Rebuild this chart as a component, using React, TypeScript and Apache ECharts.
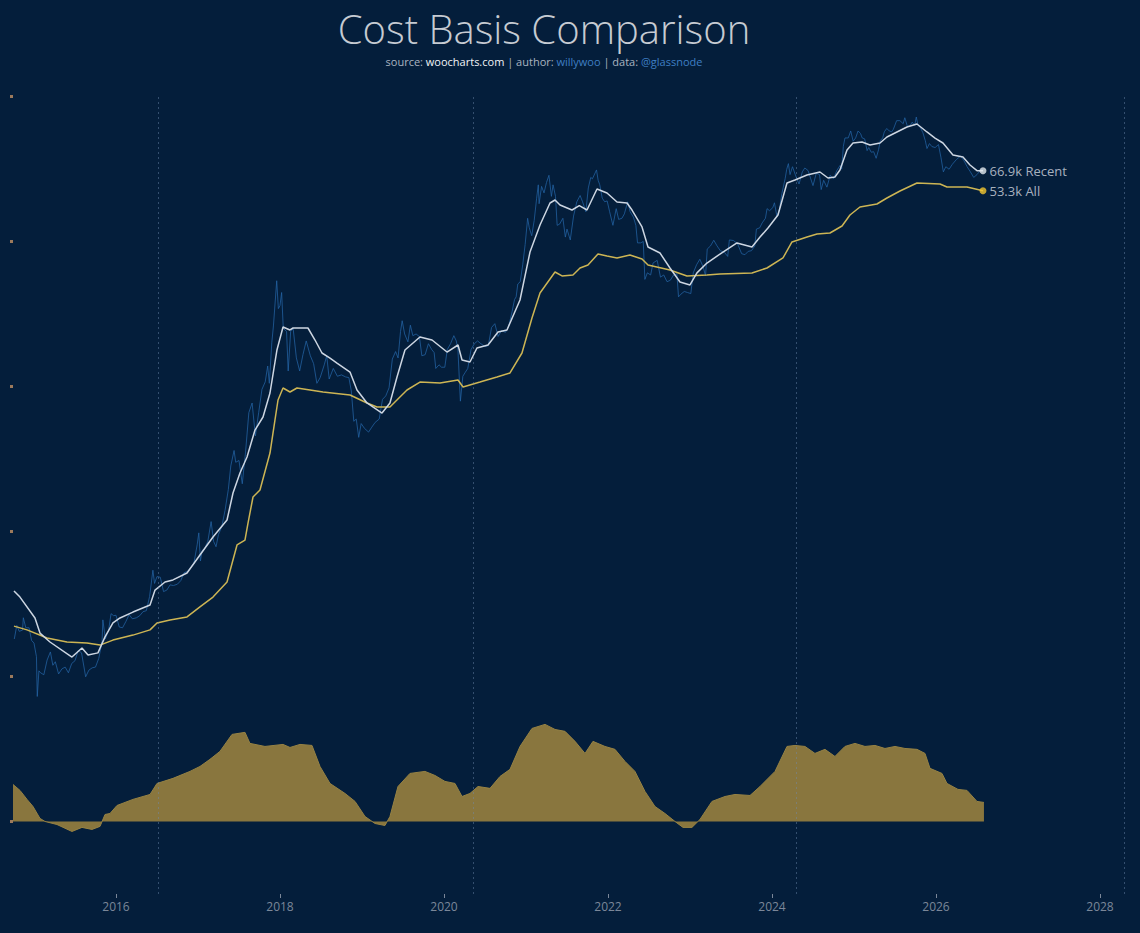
import React, { useEffect, useRef } from "react";
import * as echarts from "echarts";

// ---------- data (x = decimal year) ----------
const yearTicks = [2016, 2018, 2020, 2022, 2024, 2026, 2028];
const oscTicks = [0, 1, 2, 3, 4, 5];
const halvings = [2016.52, 2020.36, 2024.3, 2028.3];

const price: [number, number][] = [
  [2014.76, 330], [2014.79, 385], [2014.82, 360], [2014.86, 365], [2014.87, 420], [2014.9, 375],
  [2014.94, 375], [2014.97, 325], [2015.0, 315], [2015.03, 270], [2015.04, 172], [2015.06, 230],
  [2015.08, 225], [2015.12, 220], [2015.16, 260], [2015.2, 285], [2015.23, 245], [2015.26, 255],
  [2015.3, 222], [2015.34, 235], [2015.38, 240], [2015.42, 225], [2015.46, 250], [2015.5, 258],
  [2015.54, 290], [2015.58, 282], [2015.63, 215], [2015.67, 232], [2015.71, 238], [2015.75, 240],
  [2015.79, 265], [2015.83, 320], [2015.84, 410], [2015.87, 330], [2015.91, 365], [2015.94, 440],
  [2015.97, 430], [2016.0, 432], [2016.04, 378], [2016.08, 375], [2016.12, 402], [2016.16, 435],
  [2016.2, 415], [2016.25, 420], [2016.29, 430], [2016.33, 450], [2016.37, 455], [2016.41, 535],
  [2016.45, 720], [2016.47, 620], [2016.5, 670], [2016.54, 665], [2016.58, 565], [2016.62, 575],
  [2016.66, 610], [2016.7, 605], [2016.75, 615], [2016.79, 640], [2016.83, 700], [2016.87, 710],
  [2016.91, 740], [2016.95, 780], [2016.99, 960], [2017.01, 1100], [2017.03, 800], [2017.05, 900],
  [2017.08, 920], [2017.12, 1000], [2017.16, 1250], [2017.19, 1000], [2017.22, 940], [2017.25, 1080],
  [2017.29, 1180], [2017.33, 1420], [2017.37, 1800], [2017.4, 2350], [2017.44, 2800], [2017.46, 2450],
  [2017.5, 2500], [2017.54, 1920], [2017.58, 2750], [2017.62, 4300], [2017.66, 4800], [2017.7, 3300],
  [2017.74, 4300], [2017.78, 5600], [2017.82, 6100], [2017.85, 7300], [2017.87, 6000], [2017.9, 9500],
  [2017.92, 11500], [2017.96, 19200], [2017.98, 14000], [2018.0, 14500], [2018.02, 16800], [2018.04, 11200],
  [2018.08, 10800], [2018.1, 6900], [2018.13, 10800], [2018.16, 11200], [2018.2, 8000], [2018.24, 6900],
  [2018.28, 8300], [2018.32, 9700], [2018.37, 8200], [2018.41, 7500], [2018.45, 6000], [2018.49, 6400],
  [2018.54, 7400], [2018.57, 8200], [2018.6, 6300], [2018.65, 7100], [2018.7, 6500], [2018.75, 6600],
  [2018.8, 6450], [2018.84, 6400], [2018.87, 5500], [2018.9, 3900], [2018.93, 4000], [2018.96, 3250],
  [2018.99, 3800], [2019.03, 3600], [2019.08, 3450], [2019.12, 3650], [2019.16, 3850], [2019.21, 4000],
  [2019.25, 5000], [2019.29, 5200], [2019.33, 5700], [2019.37, 7900], [2019.41, 8600], [2019.44, 8000],
  [2019.47, 10800], [2019.49, 12200], [2019.52, 10500], [2019.56, 9600], [2019.59, 11600], [2019.62, 10300],
  [2019.66, 10500], [2019.7, 10200], [2019.73, 8200], [2019.77, 8300], [2019.81, 9400], [2019.85, 8800],
  [2019.88, 8500], [2019.9, 7100], [2019.94, 7400], [2019.97, 7200], [2020.01, 7200], [2020.04, 8800],
  [2020.08, 9400], [2020.12, 10300], [2020.15, 9700], [2020.17, 8800], [2020.2, 4900], [2020.23, 6500],
  [2020.26, 6800], [2020.29, 7100], [2020.33, 8800], [2020.37, 9400], [2020.41, 9700], [2020.45, 9400],
  [2020.5, 9100], [2020.54, 9200], [2020.58, 11300], [2020.62, 11800], [2020.66, 10200], [2020.7, 10900],
  [2020.75, 10700], [2020.79, 11500], [2020.83, 13500], [2020.86, 15500], [2020.88, 16000], [2020.9, 18500],
  [2020.93, 19000], [2020.96, 23000], [2020.99, 29000], [2021.02, 39000], [2021.04, 35000], [2021.07, 32000],
  [2021.1, 38000], [2021.13, 49000], [2021.15, 57000], [2021.16, 46000], [2021.19, 56000], [2021.22, 52000],
  [2021.25, 58500], [2021.28, 63500], [2021.31, 50000], [2021.33, 57000], [2021.36, 50000], [2021.38, 36000],
  [2021.41, 36500], [2021.45, 39000], [2021.48, 31500], [2021.5, 34500], [2021.54, 30500], [2021.58, 40000],
  [2021.62, 47000], [2021.66, 50500], [2021.69, 47000], [2021.73, 42000], [2021.76, 55000], [2021.79, 62000],
  [2021.81, 61000], [2021.86, 67500], [2021.88, 60000], [2021.9, 57000], [2021.93, 49000], [2021.96, 47000],
  [2021.99, 47500], [2022.02, 42000], [2022.06, 36000], [2022.1, 43500], [2022.13, 38500], [2022.17, 39000],
  [2022.2, 41000], [2022.24, 47000], [2022.27, 42000], [2022.31, 39500], [2022.34, 36000], [2022.36, 29500],
  [2022.4, 29500], [2022.43, 30000], [2022.45, 19500], [2022.48, 21000], [2022.52, 20500], [2022.55, 23500],
  [2022.6, 24200], [2022.64, 20000], [2022.68, 20500], [2022.72, 19000], [2022.76, 19300], [2022.8, 20500],
  [2022.84, 20800], [2022.86, 16000], [2022.89, 16500], [2022.93, 17000], [2022.97, 16800], [2023.01, 16600],
  [2023.04, 21000], [2023.08, 23000], [2023.12, 24500], [2023.16, 22500], [2023.19, 20300], [2023.21, 27500],
  [2023.25, 28500], [2023.29, 30400], [2023.33, 28500], [2023.37, 27000], [2023.42, 26500], [2023.46, 25300],
  [2023.48, 30500], [2023.53, 30300], [2023.58, 29200], [2023.63, 26100], [2023.67, 25800], [2023.71, 26800],
  [2023.75, 27000], [2023.79, 28500], [2023.81, 34500], [2023.85, 35000], [2023.88, 37000], [2023.92, 39000],
  [2023.94, 43500], [2023.97, 42500], [2024.01, 44000], [2024.03, 46500], [2024.06, 39800], [2024.09, 43000],
  [2024.12, 51500], [2024.16, 61000], [2024.18, 68000], [2024.2, 72500], [2024.22, 64000], [2024.25, 70000],
  [2024.29, 63000], [2024.33, 57500], [2024.37, 66000], [2024.4, 69000], [2024.44, 67000], [2024.47, 61500],
  [2024.5, 56500], [2024.54, 65000], [2024.58, 64000], [2024.6, 54000], [2024.63, 60000], [2024.67, 55500],
  [2024.71, 63500], [2024.75, 61000], [2024.79, 67000], [2024.83, 71000], [2024.85, 68000], [2024.87, 88000],
  [2024.89, 97000], [2024.93, 97000], [2024.96, 105000], [2024.99, 93500], [2025.02, 97000], [2025.05, 105000],
  [2025.08, 102000], [2025.1, 97000], [2025.13, 96000], [2025.16, 84000], [2025.18, 87000], [2025.21, 82500],
  [2025.24, 83000], [2025.27, 77000], [2025.3, 85000], [2025.32, 94000], [2025.35, 97000], [2025.37, 104000],
  [2025.4, 108000], [2025.43, 105000], [2025.46, 104000], [2025.48, 107000], [2025.52, 118000], [2025.56, 118000],
  [2025.6, 114000], [2025.62, 122000], [2025.65, 111000], [2025.68, 111000], [2025.71, 116000], [2025.74, 112000],
  [2025.76, 123000], [2025.78, 112000], [2025.81, 109000], [2025.84, 103000], [2025.87, 94000], [2025.89, 86000],
  [2025.92, 91000], [2025.95, 88000], [2025.99, 87000], [2026.03, 90000], [2026.06, 78000], [2026.09, 66000],
  [2026.12, 70000], [2026.16, 68000], [2026.2, 72000], [2026.25, 76000], [2026.3, 79000], [2026.34, 75000],
  [2026.38, 70000], [2026.42, 66000], [2026.46, 62000], [2026.5, 64000], [2026.54, 67000], [2026.57, 68000],
];

const recent: [number, number][] = [
  [2014.756, 569], [2014.829, 531], [2015.012, 419], [2015.073, 353], [2015.195, 319], [2015.463, 269],
  [2015.585, 298], [2015.659, 275], [2015.78, 282], [2015.866, 338], [2015.963, 396], [2016.049, 419],
  [2016.207, 448], [2016.415, 485], [2016.476, 575], [2016.598, 630], [2016.695, 645], [2016.866, 698],
  [2017.024, 856], [2017.183, 1050], [2017.354, 1273], [2017.427, 1729], [2017.512, 2170], [2017.598, 2601],
  [2017.695, 3532], [2017.793, 4094], [2017.878, 5375], [2017.963, 8755], [2018.037, 11365], [2018.122, 10985],
  [2018.159, 11235], [2018.244, 11235], [2018.341, 11235], [2018.427, 9804], [2018.512, 8460], [2018.61, 7993],
  [2018.695, 7552], [2018.854, 6820], [2018.939, 5561], [2019.061, 4799], [2019.244, 4283], [2019.341, 4799],
  [2019.427, 6446], [2019.524, 8755], [2019.707, 10143], [2019.854, 9804], [2020.037, 8556], [2020.171, 9264],
  [2020.22, 7813], [2020.317, 7638], [2020.402, 8954], [2020.537, 9264], [2020.659, 10738], [2020.768, 10985],
  [2020.927, 15435], [2021.049, 26600], [2021.171, 36140], [2021.293, 46380], [2021.354, 47990], [2021.415, 45340],
  [2021.561, 42830], [2021.65, 45000], [2021.744, 42830], [2021.866, 54360], [2021.988, 51950], [2022.11, 46900],
  [2022.232, 46380], [2022.293, 42830], [2022.415, 35330], [2022.488, 28150], [2022.634, 26300], [2022.756, 22190],
  [2022.878, 18930], [2023.0, 18300], [2023.085, 21000], [2023.207, 23480], [2023.402, 26600], [2023.573, 29470],
  [2023.756, 28150], [2023.854, 31530], [2023.951, 34930], [2024.073, 40470], [2024.183, 58190], [2024.28, 60200],
  [2024.427, 63720], [2024.585, 65920], [2024.683, 61590], [2024.768, 62290], [2024.829, 67440], [2024.915, 84600],
  [2024.988, 91600], [2025.098, 92650], [2025.195, 89540], [2025.317, 91600], [2025.402, 98000], [2025.524, 103800],
  [2025.646, 109800], [2025.768, 113600], [2025.89, 103800], [2025.988, 96900], [2026.085, 91600], [2026.207, 79930],
  [2026.329, 78130], [2026.415, 71380], [2026.5, 66900], [2026.573, 66900],
];

const all: [number, number][] = [
  [2014.756, 382], [2014.915, 366], [2015.159, 334], [2015.402, 319], [2015.646, 315], [2015.805, 308],
  [2015.963, 326], [2016.207, 345], [2016.415, 366], [2016.5, 396], [2016.659, 409], [2016.866, 424],
  [2017.024, 475], [2017.183, 531], [2017.354, 630], [2017.476, 959], [2017.573, 1014], [2017.61, 1230],
  [2017.671, 1652], [2017.756, 1788], [2017.878, 2721], [2017.939, 3958], [2017.976, 4965], [2018.037, 5689],
  [2018.122, 5436], [2018.207, 5689], [2018.366, 5561], [2018.524, 5436], [2018.854, 5254], [2019.061, 4799],
  [2019.183, 4585], [2019.341, 4585], [2019.463, 5136], [2019.549, 5561], [2019.707, 6088], [2019.951, 6020],
  [2020.171, 6228], [2020.232, 5754], [2020.439, 6088], [2020.646, 6446], [2020.805, 6745], [2020.951, 8460],
  [2021.073, 12580], [2021.171, 16710], [2021.354, 21210], [2021.439, 20270], [2021.573, 20500], [2021.659, 22190],
  [2021.756, 22960], [2021.878, 26010], [2021.988, 25420], [2022.11, 24860], [2022.268, 25710], [2022.415, 24570],
  [2022.488, 22960], [2022.756, 21700], [2022.963, 20270], [2023.207, 20500], [2023.366, 20730], [2023.756, 20970],
  [2023.939, 22190], [2024.134, 24860], [2024.244, 29810], [2024.427, 31530], [2024.549, 32630], [2024.707, 33000],
  [2024.854, 35730], [2024.951, 40470], [2025.073, 44330], [2025.28, 45860], [2025.402, 49080], [2025.561, 53140],
  [2025.768, 58190], [2026.049, 57540], [2026.134, 55610], [2026.378, 55610], [2026.573, 53300],
];

const osc: [number, number][] = [
  [2014.744, 0.255], [2014.829, 0.214], [2014.915, 0.152], [2014.988, 0.103], [2015.073, 0.021], [2015.134, 0],
  [2015.28, -0.021], [2015.463, -0.069], [2015.585, -0.041], [2015.707, -0.055], [2015.805, -0.034], [2015.866, 0.048],
  [2015.927, 0.055], [2016.012, 0.11], [2016.207, 0.152], [2016.415, 0.186], [2016.5, 0.262], [2016.695, 0.297],
  [2016.902, 0.345], [2017.024, 0.379], [2017.146, 0.428], [2017.268, 0.483], [2017.415, 0.6], [2017.573, 0.614],
  [2017.634, 0.538], [2017.817, 0.517], [2018.037, 0.531], [2018.122, 0.51], [2018.244, 0.531], [2018.39, 0.524],
  [2018.488, 0.379], [2018.61, 0.262], [2018.793, 0.193], [2018.915, 0.138], [2019.037, 0.034], [2019.159, -0.014],
  [2019.28, -0.028], [2019.341, 0.034], [2019.439, 0.241], [2019.585, 0.331], [2019.768, 0.345], [2019.89, 0.317],
  [2020.012, 0.276], [2020.134, 0.262], [2020.22, 0.172], [2020.317, 0.193], [2020.415, 0.241], [2020.561, 0.228],
  [2020.683, 0.31], [2020.805, 0.359], [2020.927, 0.517], [2021.073, 0.641], [2021.232, 0.669], [2021.354, 0.634],
  [2021.476, 0.621], [2021.598, 0.552], [2021.72, 0.469], [2021.817, 0.552], [2021.963, 0.517], [2022.085, 0.497],
  [2022.207, 0.414], [2022.329, 0.345], [2022.451, 0.207], [2022.573, 0.103], [2022.695, 0.055], [2022.817, 0],
  [2022.915, -0.041], [2023.024, -0.041], [2023.122, 0.014], [2023.268, 0.138], [2023.427, 0.172], [2023.549, 0.186],
  [2023.732, 0.179], [2023.854, 0.241], [2024.037, 0.345], [2024.183, 0.517], [2024.28, 0.524], [2024.402, 0.517],
  [2024.524, 0.469], [2024.646, 0.497], [2024.768, 0.448], [2024.89, 0.517], [2025.012, 0.538], [2025.134, 0.517],
  [2025.256, 0.524], [2025.378, 0.503], [2025.5, 0.517], [2025.622, 0.503], [2025.768, 0.497], [2025.866, 0.469],
  [2025.927, 0.366], [2026.073, 0.331], [2026.134, 0.262], [2026.268, 0.221], [2026.378, 0.214], [2026.5, 0.138],
  [2026.585, 0.131],
];

const BG = "#041e3b";
const FONT = "'Open Sans', 'Noto Sans', sans-serif";

export default function App() {
  const ref = useRef<HTMLDivElement>(null);

  useEffect(() => {
    document.body.style.margin = "0";
    document.body.style.background = BG;
    const chart = echarts.init(ref.current!, null, { renderer: "svg" });
    const lastRecent = recent[recent.length - 1];
    const lastAll = all[all.length - 1];
    const fmtK = (v: number) => (v / 1000).toFixed(1) + "k";

    chart.setOption({
      animation: false,
      backgroundColor: BG,
      textStyle: { fontFamily: FONT },
      grid: { left: 13, right: 0, top: 96, bottom: 39 },
      graphic: [
        {
          type: "text",
          x: 544,
          y: 28,
          style: {
            text: "Cost Basis Comparison",
            fill: "#c6cbd2",
            fontSize: 40,
            fontWeight: 300,
            fontFamily: FONT,
            textAlign: "center",
            textVerticalAlign: "middle",
          },
        },
        {
          type: "text",
          x: 544,
          y: 61,
          style: {
            text:
              "{g|source: }{w|woocharts.com}{g| | author: }{b|willywoo}{g| | data: }{b|@glassnode}",
            fontSize: 11,
            fontFamily: FONT,
            textAlign: "center",
            textVerticalAlign: "middle",
            rich: {
              g: { fill: "#aab4c0", fontSize: 11, fontFamily: FONT },
              w: { fill: "#f2f4f7", fontSize: 11, fontFamily: FONT },
              b: { fill: "#3f7fc4", fontSize: 11, fontFamily: FONT },
            },
          },
        },
      ],
      xAxis: {
        type: "value",
        min: 2014.744,
        max: 2028.488,
        axisLine: { show: false, onZero: false },
        splitLine: { show: false },
        axisTick: {
          show: true,
          length: 4,
          customValues: yearTicks,
          lineStyle: { color: "#7b8799", width: 1 },
        },
        axisLabel: {
          customValues: yearTicks,
          margin: 6,
          color: "#7b8799",
          fontSize: 12,
          fontFamily: FONT,
          formatter: (v: number) => String(v),
        },
      },
      yAxis: [
        { type: "log", min: 18.3, max: 156100, show: false },
        {
          type: "value",
          min: -0.5,
          max: 5,
          position: "left",
          axisLine: { show: false, onZero: false },
          splitLine: { show: false },
          axisLabel: { show: false },
          axisTick: {
            show: true,
            length: 3,
            customValues: oscTicks,
            lineStyle: { color: "#9c7a5c", width: 3 },
          },
        },
      ],
      series: [
        {
          name: "Price",
          type: "line",
          data: price,
          yAxisIndex: 0,
          showSymbol: false,
          z: 1,
          lineStyle: { color: "rgba(36,100,165,0.75)", width: 1 },
          markLine: {
            silent: true,
            symbol: ["none", "none"],
            label: { show: false },
            lineStyle: { color: "rgba(110,140,175,0.45)", width: 1, type: [2, 3] },
            data: halvings.map((h) => ({ xAxis: h })),
          },
        },
        {
          name: "Oscillator",
          type: "line",
          data: osc,
          yAxisIndex: 1,
          showSymbol: false,
          z: 2,
          lineStyle: { color: "#968244", width: 1 },
          areaStyle: { color: "#89763e", opacity: 1 },
        },
        {
          name: "All",
          type: "line",
          data: all,
          yAxisIndex: 0,
          showSymbol: false,
          z: 3,
          lineStyle: { color: "#cdb554", width: 1.5 },
        },
        {
          name: "Recent",
          type: "line",
          data: recent,
          yAxisIndex: 0,
          showSymbol: false,
          z: 4,
          lineStyle: { color: "#cdd6e2", width: 1.5 },
        },
        {
          name: "Ends",
          type: "scatter",
          yAxisIndex: 0,
          symbolSize: 7,
          z: 5,
          data: [
            {
              value: lastRecent,
              itemStyle: { color: "#e4e8ee" },
              label: { formatter: () => fmtK(lastRecent[1]) + " Recent" },
            },
            {
              value: lastAll,
              itemStyle: { color: "#f2c531" },
              label: { formatter: () => fmtK(lastAll[1]) + " All" },
            },
          ],
          label: {
            show: true,
            position: "right",
            distance: 3,
            color: "#d4d9e0",
            fontSize: 13,
            fontFamily: FONT,
          },
        },
      ],
    });
    return () => chart.dispose();
  }, []);

  return <div ref={ref} style={{ width: 1140, height: 933 }} />;
}
